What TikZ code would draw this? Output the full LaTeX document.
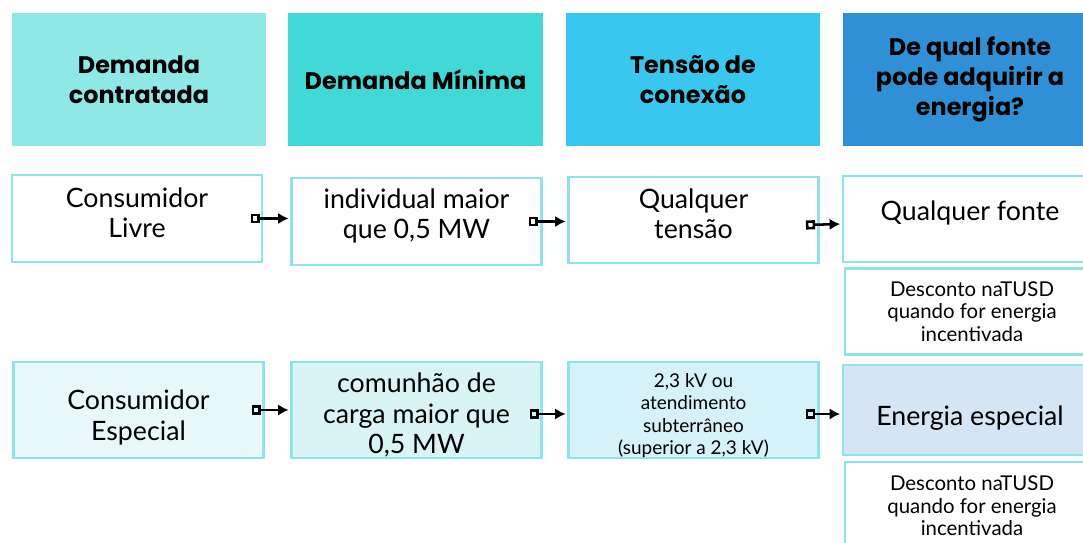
\documentclass[tikz,border=0pt]{standalone}
\usepackage{fontspec}
\setmainfont{Lato}
\newfontfamily\hdrfont{Poppins}
\usetikzlibrary{arrows.meta}

\definecolor{hdrA}{HTML}{8EE8E6}
\definecolor{hdrB}{HTML}{40D9D6}
\definecolor{hdrC}{HTML}{38C8EF}
\definecolor{hdrD}{HTML}{2F90D6}
\definecolor{edge}{HTML}{8EE4E6}
\definecolor{fillA}{HTML}{E8F8F8}
\definecolor{fillB}{HTML}{D8F4F4}
\definecolor{fillC}{HTML}{D6F2F9}
\definecolor{fillD}{HTML}{D4E6F4}

\begin{document}
\begin{tikzpicture}[x=0.025cm, y=-0.025cm,
    hdr/.style={minimum width=6.35cm, minimum height=3.325cm, inner sep=0pt, align=center,
        font=\hdrfont\bfseries\fontsize{17}{21.5}\selectfont},
    box/.style={draw=edge, line width=2pt, minimum width=6.25cm, inner sep=0pt, align=center,
        font=\fontsize{19}{21.5}\selectfont},
    note/.style={box, font=\fontsize{14.5}{16}\selectfont},
    conn/.style={line width=1.8pt, shorten >=1pt,
        {Square[open,length=6.5pt,width=6.5pt]}-{Latex[length=7.5pt,width=8pt]}}]
    \useasboundingbox (0,0) rectangle (1083,543);
    \fill[white] (0,0) rectangle (1083,543);

    % Header row
    \node[hdr, fill=hdrA] (h1) at (139,79.5) {Demanda\\contratada};
    \node[hdr, fill=hdrB] (h2) at (415.5,79.5) {Demanda Mínima};
    \node[hdr, fill=hdrC] (h3) at (693,79.5) {Tensão de\\conexão};
    \node[hdr, fill=hdrD] (h4) at (970,79.5) {De qual fonte\\pode adquirir a\\energia?};

    % Consumidor livre
    \node[box, minimum height=2.175cm] (l1) at (137,218.5) {Consumidor\\Livre\\[-13pt]};
    \node[box, minimum height=2.175cm] (l2) at (416.5,221.5) {individual maior\\que 0,5 MW\\[-10pt]};
    \node[box, minimum height=2.15cm] (l3) at (693.5,220) {Qualquer\\tensão\\[-13pt]};
    \node[box, minimum height=2.15cm, minimum width=6.35cm] (l4) at (970,219) {Qualquer fonte\\[-10pt]};
    \node[note, minimum height=2.15cm, minimum width=6.35cm] (l5) at (972,311.5)
        {Desconto naTUSD\\quando for energia\\incentivada};

    % Consumidor especial
    \node[box, fill=fillA, minimum height=2.4cm] (e1) at (138.5,410) {Consumidor\\Especial\\[-29pt]};
    \node[box, fill=fillB, minimum height=2.4cm] (e2) at (416.5,410) {comunhão de\\carga maior que\\0,5 MW\\[-26pt]};
    \node[box, fill=fillC, minimum height=2.4cm, font=\fontsize{13.5}{16}\selectfont] (e3) at (693.5,410)
        {2,3 kV ou\\atendimento\\subterrâneo\\(superior a 2,3 kV)\\[-22pt]};
    \node[box, fill=fillD, minimum height=2.25cm, minimum width=6.35cm] (e4) at (970,410) {Energia especial\\[-30pt]};
    \node[note, minimum height=2.2cm, minimum width=6.35cm] (e5) at (972,506)
        {Desconto naTUSD\\quando for energia\\incentivada};

    % Connectors
    \draw[conn] ([xshift=-0.32cm]l1.east) -- (l2.west |- l1.east);
    \draw[conn] ([xshift=-0.36cm]l2.east) -- (l3.west |- l2.east);
    \draw[conn] ([xshift=-0.35cm,yshift=-0.125cm]l3.east) -- ([yshift=-0.125cm]l4.west);
    \draw[conn] ([xshift=-0.33cm]e1.east) -- (e2.west);
    \draw[conn] ([xshift=-0.33cm,yshift=-0.1cm]e2.east) -- ([yshift=-0.1cm]e3.west);
    \draw[conn] ([xshift=-0.35cm,yshift=-0.1cm]e3.east) -- ([yshift=-0.1cm]e4.west);
\end{tikzpicture}
\end{document}
